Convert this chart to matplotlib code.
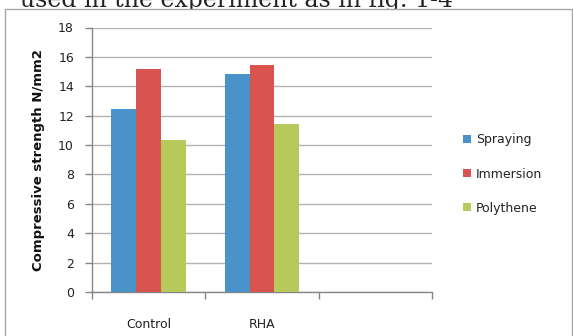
import numpy as np
import matplotlib
matplotlib.use("Agg")
import matplotlib.pyplot as plt
from matplotlib.patches import Rectangle
from matplotlib.ticker import FixedLocator, MultipleLocator

categories = ["Control", "RHA", ""]
series_names = ["Spraying", "Immersion", "Polythene"]
spraying = [12.45, 14.85]
immersion = [15.2, 15.45]
polythene = [10.35, 11.45]
colors = ["#4A92CA", "#D9534F", "#B7C95B"]

plt.rcParams["font.family"] = "DejaVu Sans"

fig = plt.figure(figsize=(5.73, 3.36), dpi=100)
W, H = 573, 336

# sentence from the page above the chart; the chart area covers its lower part
fig.text(20 / W, 1 - 7 / H, "used in the experiment as in fig. 1-4",
         family="DejaVu Serif", fontsize=17, va="baseline", ha="left",
         color="#222222", zorder=-2)

# chart area (white, framed), drawn over the sentence but under the axes
fig.add_artist(Rectangle((4.5 / W, -0.05), (571.5 - 4.5) / W, 1.05 - 8.5 / H,
                         transform=fig.transFigure, facecolor="white",
                         edgecolor="#a6a6a6", linewidth=1.0, zorder=-1))

ax = fig.add_axes([92 / W, 1 - 292 / H, (432 - 92) / W, (292 - 27.5) / H])
ax.patch.set_alpha(0)

x = np.arange(len(categories))
width = 0.22
for i, (vals, name) in enumerate(zip([spraying, immersion, polythene], series_names)):
    ax.bar(x[:len(vals)] + (i - 1) * width, vals, width, color=colors[i],
           label=name, zorder=3)

ax.set_xlim(-0.5, len(categories) - 0.5)
ax.set_ylim(0, 18)
ax.yaxis.set_major_locator(MultipleLocator(2))
ax.yaxis.grid(True, color="#b3b3b3", linewidth=1.0, zorder=0)

ax.set_xticks(x)
ax.set_xticklabels(categories)
ax.xaxis.set_minor_locator(FixedLocator(np.arange(len(categories) + 1) - 0.5))
ax.tick_params(axis="x", which="major", length=0, pad=19, labelsize=9,
               labelcolor="#222222")
ax.tick_params(axis="x", which="minor", length=5, color="#868686", width=1.0)
ax.tick_params(axis="y", length=5, color="#868686", width=1.0, pad=8,
               labelsize=9, labelcolor="#222222")

for side in ["top", "right"]:
    ax.spines[side].set_visible(False)
for side in ["left", "bottom"]:
    ax.spines[side].set_color("#868686")
    ax.spines[side].set_linewidth(1.0)

ax.set_ylabel("Compressive strength N/mm2", fontsize=9.5, fontweight="bold",
              color="#111111")
ax.yaxis.set_label_coords(-(92 - 45) / (432 - 92), 0.5)

ax.legend(loc="center left", bbox_to_anchor=(452 / W, 1 - 174 / H),
          bbox_transform=fig.transFigure, frameon=False, fontsize=9,
          handlelength=0.6, handleheight=0.6, handletextpad=0.4,
          labelspacing=1.7, labelcolor="#222222")

fig.savefig("out.png", dpi=100)
